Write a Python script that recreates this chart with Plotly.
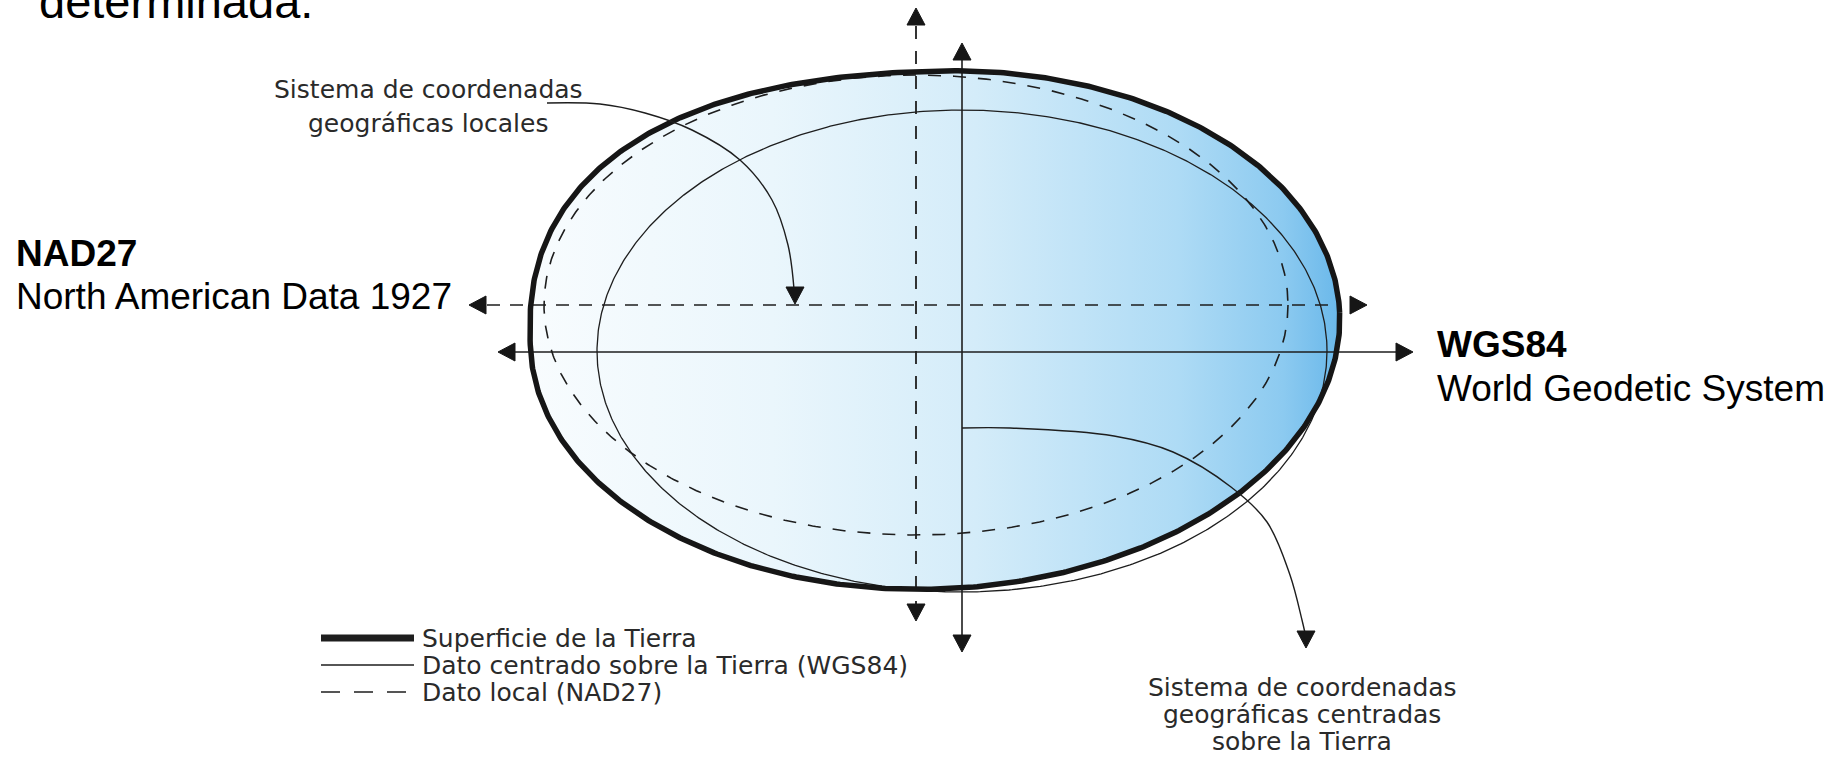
import numpy as np
import plotly.graph_objects as go

W, H = 1839, 758

# --- outlines: Earth surface (thick), WGS84 datum (thin), NAD27 datum (dashed) ---
ell_names = ["Superficie de la Tierra", "Dato centrado sobre la Tierra (WGS84)", "Dato local (NAD27)"]
ell_cx = [935, 962, 916]
ell_cy = [330, 351, 305]
ell_rx = [405, 365, 372]
ell_ry = [259, 241, 230]
ell_tilt = [-2.5, 0.0, 0.0]
# squareness of each quadrant (upper-right, lower-right, lower-left, upper-left)
ell_quad_exp = [[2.0, 2.0, 2.0, 2.4], [2.0, 2.0, 2.0, 2.0], [2.0, 2.0, 2.0, 2.0]]

# --- axes of the two coordinate systems ---
solid_h = dict(y=352, x0=512, x1=1397)
solid_v = dict(x=962, y0=60, y1=636)
dash_h = dict(y=305, x0=487, x1=1340)
dash_v = dict(x=916, y0=26, y1=604)

arrow_tip_x = [498, 1413, 962, 962, 469, 1367, 916, 916, 795, 1306]
arrow_tip_y = [352, 352, 43, 652, 305, 305, 8, 621, 304, 648]
arrow_dir = ["left", "right", "up", "down", "left", "right", "up", "down", "down", "down"]

# --- curved leader arrows ---
curve1_x = [547, 600, 645, 692, 740, 772, 788, 794]
curve1_y = [103, 104, 113, 130, 160, 200, 245, 289]
curve2_x = [962, 1010, 1114, 1173, 1231, 1267, 1290, 1302, 1305]
curve2_y = [428, 428, 436, 452, 487, 522, 575, 620, 633]

fill_colors = [[0.0, "#f8fcfe"], [0.3, "#eaf6fc"], [0.55, "#d4ecf9"], [0.8, "#aedbf5"], [0.93, "#8ccaf0"], [1.0, "#6ab8ea"]]

fig = go.Figure()


def outline(i, n=720):
    t = np.linspace(0, 2 * np.pi, n)
    c, s = np.cos(t), np.sin(t)
    # quadrant index: 0 upper-right (screen), 1 lower-right, 2 lower-left, 3 upper-left
    q = np.where(c >= 0, np.where(s < 0, 0, 1), np.where(s >= 0, 2, 3))
    e = np.array(ell_quad_exp[i])[q]
    u = np.sign(c) * np.abs(c) ** (2.0 / e)
    v = np.sign(s) * np.abs(s) ** (2.0 / e)
    a = np.deg2rad(ell_tilt[i])
    x = ell_cx[i] + ell_rx[i] * u * np.cos(a) - ell_ry[i] * v * np.sin(a)
    y = ell_cy[i] + ell_rx[i] * u * np.sin(a) + ell_ry[i] * v * np.cos(a)
    return x, y


def add_line(x, y, width=1.4, dash="solid", color="#1e1e1e", shape="linear"):
    fig.add_trace(go.Scatter(x=x, y=y, mode="lines", hoverinfo="skip", showlegend=False,
                             line=dict(color=color, width=width, dash=dash, shape=shape)))


# filled earth
ex, ey = outline(0)
fig.add_trace(go.Scatter(x=ex, y=ey, mode="lines", fill="toself", hoverinfo="skip", showlegend=False,
                         line=dict(width=0, color="rgba(0,0,0,0)"),
                         fillgradient=dict(type="horizontal", colorscale=fill_colors)))

# axes
add_line([solid_h["x0"], solid_h["x1"]], [solid_h["y"]] * 2, width=1.6)
add_line([solid_v["x"]] * 2, [solid_v["y0"], solid_v["y1"]], width=1.6)
add_line([dash_h["x0"], dash_h["x1"]], [dash_h["y"]] * 2, width=1.6, dash="13px,10px")
add_line([dash_v["x"]] * 2, [dash_v["y0"], dash_v["y1"]], width=1.8, dash="13px,12px")

# datum outlines
dx, dy = outline(2)
add_line(dx, dy, width=1.6, dash="13px,12px")
tx, ty = outline(1)
add_line(tx, ty, width=1.3)
add_line(ex, ey, width=5.5, color="#161616")

# leader curves
add_line(curve1_x, curve1_y, width=1.4, shape="spline")
add_line(curve2_x, curve2_y, width=1.4, shape="spline")

# arrow heads
L, HW = 17, 9
dirs = {"left": (-1, 0), "right": (1, 0), "up": (0, -1), "down": (0, 1)}
for xt, yt, d in zip(arrow_tip_x, arrow_tip_y, arrow_dir):
    ux, uy = dirs[d]
    bx, by = xt - ux * L, yt - uy * L
    px, py = -uy, ux
    fig.add_trace(go.Scatter(x=[xt, bx + px * HW, bx - px * HW, xt], y=[yt, by + py * HW, by - py * HW, yt],
                             mode="lines", fill="toself", fillcolor="#161616", hoverinfo="skip",
                             showlegend=False, line=dict(color="#161616", width=1)))

# legend (drawn manually)
leg_x0, leg_x1, leg_tx = 321, 414, 420
leg_y = [638, 665, 692]
leg_w = [7, 1.4, 1.6]
leg_dash = ["solid", "solid", "19px,14px"]
for name, yy, w, ds in zip(ell_names, leg_y, leg_w, leg_dash):
    add_line([leg_x0, leg_x1], [yy, yy], width=w, dash=ds)
    fig.add_annotation(x=leg_tx, y=yy, text=name, showarrow=False, xanchor="left", yanchor="middle",
                       font=dict(family="DejaVu Sans", size=25, color="#2a2a2a"))

small = dict(family="DejaVu Sans", size=25, color="#2a2a2a")
big = dict(family="Liberation Sans, Arial", size=37, color="#000000")

texts = [
    ("determinada.", 37, 1, "left", dict(family="Liberation Sans, Arial", size=47, color="#000000")),
    ("<b>NAD27</b>", 14, 253, "left", big),
    ("North American Data 1927", 14, 296, "left", big),
    ("<b>WGS84</b>", 1435, 344, "left", big),
    ("World Geodetic System", 1435, 388, "left", big),
    ("Sistema de coordenadas", 428, 89, "center", small),
    ("geográficas locales", 428, 123, "center", small),
    ("Sistema de coordenadas", 1302, 687, "center", small),
    ("geográficas centradas", 1302, 714, "center", small),
    ("sobre la Tierra", 1302, 741, "center", small),
]
for txt, x, y, xa, f in texts:
    fig.add_annotation(x=x, y=y, text=txt, showarrow=False, xanchor=xa, yanchor="middle", font=f)

fig.update_layout(
    width=W, height=H, autosize=False,
    margin=dict(l=0, r=0, t=0, b=0),
    paper_bgcolor="white", plot_bgcolor="white",
    xaxis=dict(range=[0, W], visible=False, fixedrange=True),
    yaxis=dict(range=[H, 0], visible=False, fixedrange=True),
)

fig.write_html("out.html", config={"displayModeBar": False},
               post_script="document.body.style.margin='0';document.body.style.overflow='hidden';")
